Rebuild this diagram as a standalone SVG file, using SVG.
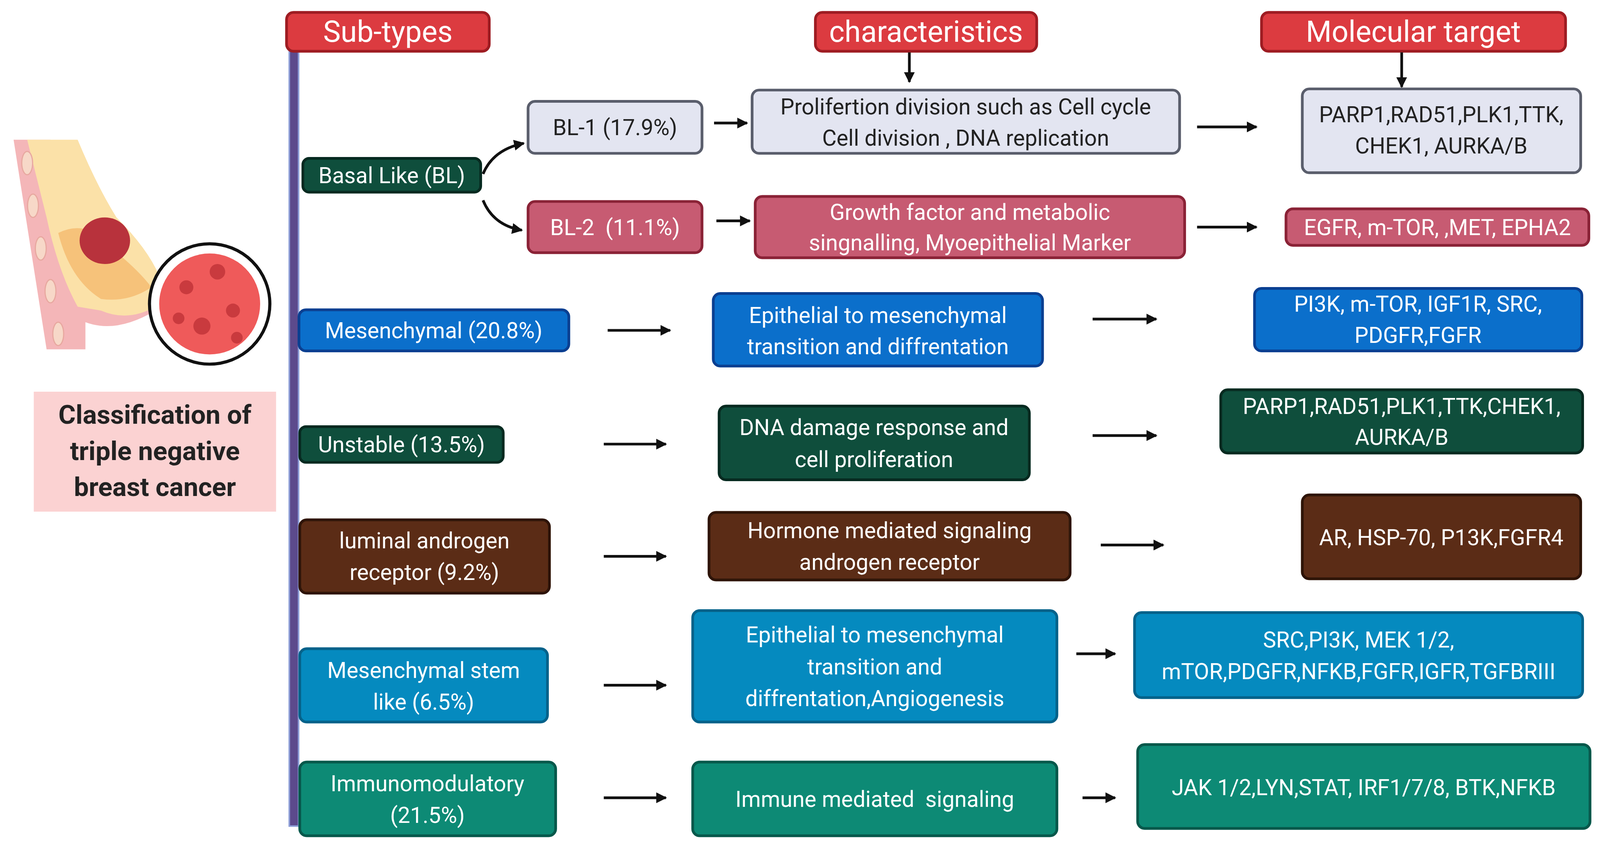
<svg xmlns="http://www.w3.org/2000/svg" width="4110" height="2179" viewBox="0 0 4110 2179">
<style>
text{font-family:Roboto,"Liberation Sans",sans-serif;font-size:57px;text-anchor:middle;fill:#fff}
.dk{fill:#222}
.hd{font-size:76px}
rect{stroke-width:7}
.red{fill:#dc3b40;stroke:#9e1c22}
.lt{fill:#e3e5f1;stroke:#5a5e6c}
.pk{fill:#c75b72;stroke:#8a2236}
.gr{fill:#0f4e3c;stroke:#062a20}
.bl{fill:#0b6fcb;stroke:#0a3f91}
.br{fill:#5b2c16;stroke:#2e1407}
.lb{fill:#058abf;stroke:#04628a}
.tl{fill:#0d8a75;stroke:#06584b}
.c line,.c path{stroke:#111;stroke-width:7;fill:none;marker-end:url(#a)}
</style>
<defs><marker id="a" viewBox="0 0 10 10" refX="9" refY="5" markerWidth="4" markerHeight="4" orient="auto"><path d="M0,0L10,5L0,10z" fill="#111"/></marker></defs>
<rect width="4110" height="2179" fill="#fff" style="stroke:none"/>
<g transform="scale(0.994)">
<g id="illustration">
<path d="M35,360 L130,360 Q170,470 230,560 Q330,640 395,700 L400,800 Q300,860 220,830 L220,900 L120,900 Z" fill="#f4b6b8"/>
<path d="M70,360 L200,360 Q250,480 300,560 Q380,640 410,710 L400,790 Q330,830 260,800 L200,790 Q150,700 120,560 Z" fill="#fbe1a8"/>
<path d="M150,600 Q230,560 300,650 Q360,700 390,740 Q330,780 260,770 Q180,720 150,600 Z" fill="#f6c27a"/>
<g fill="#f7d8c8" stroke="#e8a8a0" stroke-width="3"><ellipse cx="70" cy="420" rx="14" ry="30"/><ellipse cx="85" cy="530" rx="14" ry="30"/><ellipse cx="105" cy="640" rx="14" ry="30"/><ellipse cx="130" cy="750" rx="14" ry="30"/><ellipse cx="150" cy="860" rx="14" ry="30"/></g>
<ellipse cx="270" cy="620" rx="65" ry="60" fill="#b8323c"/>
<circle cx="540" cy="783" r="155" fill="#fff" stroke="#111" stroke-width="8"/>
<circle cx="540" cy="783" r="130" fill="#ef5a5a"/>
<g fill="#c93a3e"><circle cx="480" cy="740" r="18"/><circle cx="560" cy="700" r="20"/><circle cx="600" cy="800" r="18"/><circle cx="520" cy="840" r="22"/><circle cx="460" cy="820" r="15"/><circle cx="610" cy="870" r="15"/></g>
</g>
<rect x="745" y="58" width="24" height="2070" fill="#5c4a8c" style="stroke:#8e9fd8;stroke-width:4"/>
<g id="classification"><rect x="87" y="1009" width="624" height="309" fill="#fbd2d2" style="stroke:none"/>
<text class="dk" x="399" y="1092" style="font-weight:bold;font-size:68px">Classification of</text>
<text class="dk" x="399" y="1185" style="font-weight:bold;font-size:68px">triple negative</text>
<text class="dk" x="399" y="1278" style="font-weight:bold;font-size:68px">breast cancer</text></g>
<g id="h1"><rect class="red" x="738" y="32" width="522" height="100" rx="18"/><text class="hd" x="999" y="108">Sub-types</text></g>
<g id="h2"><rect class="red" x="2100" y="32" width="570" height="100" rx="18"/><text class="hd" x="2385" y="108">characteristics</text></g>
<g id="h3"><rect class="red" x="3249" y="32" width="783" height="100" rx="18"/><text class="hd" x="3640" y="108">Molecular target</text></g>
<g id="basal"><rect class="gr" x="780" y="408" width="458" height="87" rx="16"/><text x="1009" y="472">Basal Like (BL)</text></g>
<g id="bl1"><rect class="lt" x="1360" y="261" width="448" height="134" rx="18"/><text class="dk" x="1584" y="348">BL-1 (17.9%)</text></g>
<g id="bl2"><rect class="pk" x="1360" y="519" width="448" height="132" rx="18"/><text x="1584" y="606" xml:space="preserve">BL-2  (11.1%)</text></g>
<g id="prolif"><rect class="lt" x="1937" y="232" width="1101" height="163" rx="18"/><text class="dk" x="2487" y="295">Prolifertion division such as Cell cycle</text><text class="dk" x="2487" y="375">Cell division , DNA replication</text></g>
<g id="growth"><rect class="pk" x="1945" y="506" width="1106" height="158" rx="18"/><text x="2498" y="566">Growth factor and metabolic</text><text x="2498" y="645">singnalling, Myoepithelial Marker</text></g>
<g id="t1"><rect class="lt" x="3354" y="229" width="717" height="216" rx="18"/><text class="dk" x="3712" y="315">PARP1,RAD51,PLK1,TTK,</text><text class="dk" x="3712" y="395">CHEK1, AURKA/B</text></g>
<g id="t2"><rect class="pk" x="3312" y="538" width="780" height="94" rx="18"/><text x="3702" y="606">EGFR, m-TOR, ,MET, EPHA2</text></g>
<g id="mes"><rect class="bl" x="770" y="798" width="695" height="106" rx="18"/><text x="1117" y="871">Mesenchymal (20.8%)</text></g>
<g id="epi1"><rect class="bl" x="1837" y="756" width="848" height="187" rx="18"/><text x="2261" y="832">Epithelial to mesenchymal</text><text x="2261" y="912">transition and diffrentation</text></g>
<g id="t3"><rect class="bl" x="3231" y="743" width="843" height="161" rx="18"/><text x="3652" y="803">PI3K, m-TOR, IGF1R, SRC,</text><text x="3652" y="883">PDGFR,FGFR</text></g>
<g id="unst"><rect class="gr" x="772" y="1099" width="524" height="92" rx="16"/><text x="1034" y="1165">Unstable (13.5%)</text></g>
<g id="dna"><rect class="gr" x="1852" y="1046" width="799" height="190" rx="18"/><text x="2251" y="1121">DNA damage response and</text><text x="2251" y="1203">cell proliferation</text></g>
<g id="t4"><rect class="gr" x="3144" y="1004" width="932" height="163" rx="18"/><text x="3610" y="1066">PARP1,RAD51,PLK1,TTK,CHEK1,</text><text x="3610" y="1146">AURKA/B</text></g>
<g id="lum"><rect class="br" x="772" y="1339" width="643" height="189" rx="18"/><text x="1093" y="1412">luminal androgen</text><text x="1093" y="1494">receptor (9.2%)</text></g>
<g id="horm"><rect class="br" x="1826" y="1320" width="930" height="174" rx="18"/><text x="2291" y="1386">Hormone mediated signaling</text><text x="2291" y="1468">androgen receptor</text></g>
<g id="t5"><rect class="br" x="3354" y="1275" width="717" height="216" rx="18"/><text x="3712" y="1404">AR, HSP-70, P13K,FGFR4</text></g>
<g id="msl"><rect class="lb" x="772" y="1671" width="638" height="189" rx="18"/><text x="1091" y="1746">Mesenchymal stem</text><text x="1091" y="1828">like (6.5%)</text></g>
<g id="epi2"><rect class="lb" x="1784" y="1573" width="938" height="287" rx="18"/><text x="2253" y="1655">Epithelial to mesenchymal</text><text x="2253" y="1737">transition and</text><text x="2253" y="1819">diffrentation,Angiogenesis</text></g>
<g id="t6"><rect class="lb" x="2922" y="1578" width="1154" height="219" rx="18"/><text x="3499" y="1668">SRC,PI3K, MEK 1/2,</text><text x="3499" y="1750">mTOR,PDGFR,NFKB,FGFR,IGFR,TGFBRIII</text></g>
<g id="imm"><rect class="tl" x="772" y="1963" width="659" height="190" rx="18"/><text x="1101" y="2038">Immunomodulatory</text><text x="1101" y="2120">(21.5%)</text></g>
<g id="immsig"><rect class="tl" x="1784" y="1963" width="938" height="190" rx="18"/><text x="2253" y="2078" xml:space="preserve">Immune mediated  signaling</text></g>
<g id="t7"><rect class="tl" x="2930" y="1918" width="1165" height="216" rx="18"/><text x="3512" y="2048">JAK 1/2,LYN,STAT, IRF1/7/8, BTK,NFKB</text></g>
<g class="c" id="connectors">
<line x1="2342" y1="135" x2="2342" y2="211"/>
<line x1="3610" y1="135" x2="3610" y2="224"/>
<path d="M1244,448 Q1270,385 1349,369"/>
<path d="M1244,516 Q1270,580 1344,593"/>
<line x1="1839" y1="317" x2="1924" y2="317"/>
<line x1="1845" y1="569" x2="1931" y2="569"/>
<line x1="3083" y1="327" x2="3236" y2="327"/>
<line x1="3083" y1="585" x2="3236" y2="585"/>
<line x1="1565" y1="851" x2="1726" y2="851"/>
<line x1="2814" y1="822" x2="2978" y2="822"/>
<line x1="1555" y1="1144" x2="1715" y2="1144"/>
<line x1="2814" y1="1122" x2="2978" y2="1122"/>
<line x1="1555" y1="1433" x2="1715" y2="1433"/>
<line x1="2835" y1="1404" x2="2996" y2="1404"/>
<line x1="1555" y1="1765" x2="1715" y2="1765"/>
<line x1="2772" y1="1684" x2="2872" y2="1684"/>
<line x1="1555" y1="2055" x2="1715" y2="2055"/>
<line x1="2788" y1="2055" x2="2872" y2="2055"/>
</g>
</g>
</svg>
